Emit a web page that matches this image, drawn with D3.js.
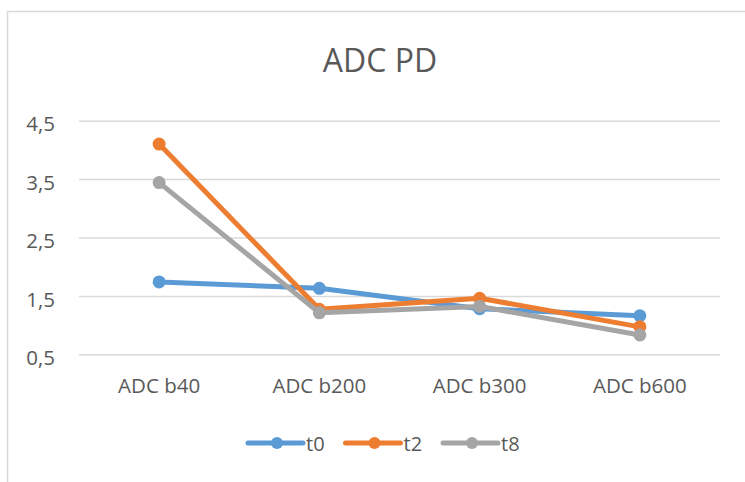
<!DOCTYPE html>
<html>
<head>
<meta charset="utf-8">
<script src="https://cdn.jsdelivr.net/npm/d3@7/dist/d3.min.js"></script>
<style>
  html, body { margin: 0; padding: 0; background: #fff; }
  svg { display: block; }
  text { font-family: "Open Sans", "Noto Sans", sans-serif; fill: #595959; }
</style>
</head>
<body>
<svg id="chart" width="745" height="482"></svg>
<script>
// Chart data
const categories = ["ADC b40", "ADC b200", "ADC b300", "ADC b600"];
const seriesNames = ["t0", "t2", "t8"];
const t0 = [1.74, 1.63, 1.28, 1.16];
const t2 = [4.10, 1.27, 1.46, 0.97];
const t8 = [3.44, 1.21, 1.32, 0.83];
const yTicks = [0.5, 1.5, 2.5, 3.5, 4.5];
const title = "ADC PD";

const seriesValues = [t0, t2, t8];
const colors = ["#5B9BD5", "#ED7D31", "#A5A5A5"];

const svg = d3.select("#chart");

// Chart area frame
svg.append("rect")
  .attr("x", 7.5).attr("y", 11.5)
  .attr("width", 760).attr("height", 480)
  .attr("fill", "#fff")
  .attr("stroke", "#d9d9d9")
  .attr("stroke-width", 1.5);

const plot = { left: 79, right: 720, top: 120.7, bottom: 354.3 };

const x = d3.scaleBand()
  .domain(categories)
  .range([plot.left, plot.right]);

const y = d3.scaleLinear()
  .domain([0.5, 4.5])
  .range([plot.bottom, plot.top]);

// Title
svg.append("text")
  .attr("x", 380).attr("y", 72)
  .attr("text-anchor", "middle")
  .style("font-size", "32px")
  .text(title);

// Horizontal gridlines + value labels
const yAxis = d3.axisLeft(y)
  .tickValues(yTicks)
  .tickSize(-(plot.right - plot.left))
  .tickPadding(24)
  .tickFormat(d => d3.format(".1f")(d).replace(".", ","));

const gy = svg.append("g")
  .attr("transform", `translate(${plot.left},0)`)
  .call(yAxis);
gy.select(".domain").remove();
gy.selectAll(".tick line")
  .attr("stroke", "#d9d9d9")
  .attr("stroke-width", 1.5);
gy.selectAll(".tick text")
  .attr("dy", "0.35em")
  .attr("y", 3)
  .style("font-size", "20.5px")
  .style("fill", "#595959");

// Category labels
const xAxis = d3.axisBottom(x).tickSize(0).tickPadding(0);
const gx = svg.append("g")
  .attr("transform", `translate(0,${plot.bottom})`)
  .call(xAxis);
gx.select(".domain").remove();
gx.selectAll(".tick text")
  .attr("y", 39)
  .attr("dy", 0)
  .style("font-size", "20.5px")
  .style("fill", "#595959");

// Series lines and markers
const line = d3.line()
  .x((d, i) => x(categories[i]) + x.bandwidth() / 2)
  .y(d => y(d));

seriesValues.forEach((vals, s) => {
  const g = svg.append("g");
  g.append("path")
    .datum(vals)
    .attr("d", line)
    .attr("fill", "none")
    .attr("stroke", colors[s])
    .attr("stroke-width", 5)
    .attr("stroke-linejoin", "round")
    .attr("stroke-linecap", "round");
  g.selectAll("circle")
    .data(vals)
    .join("circle")
    .attr("cx", (d, i) => x(categories[i]) + x.bandwidth() / 2)
    .attr("cy", d => y(d))
    .attr("r", 6.5)
    .attr("fill", colors[s]);
});

// Legend
const legendStart = 248, legendStep = 97.5, legendY = 443;
seriesNames.forEach((name, s) => {
  const lx = legendStart + s * legendStep;
  const g = svg.append("g");
  g.append("line")
    .attr("x1", lx).attr("x2", lx + 55)
    .attr("y1", legendY).attr("y2", legendY)
    .attr("stroke", colors[s])
    .attr("stroke-width", 5)
    .attr("stroke-linecap", "round");
  g.append("circle")
    .attr("cx", lx + 29).attr("cy", legendY)
    .attr("r", 6)
    .attr("fill", colors[s]);
  g.append("text")
    .attr("x", lx + 58).attr("y", legendY + 8)
    .style("font-size", "20px")
    .text(name);
});
</script>
</body>
</html>
